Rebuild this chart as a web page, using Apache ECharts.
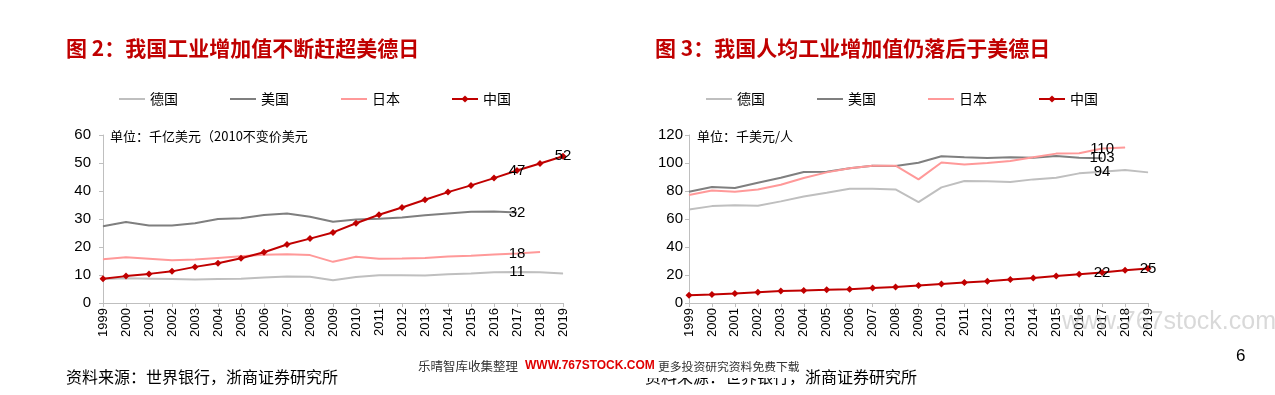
<!DOCTYPE html>
<html><head><meta charset="utf-8">
<script src="https://cdn.jsdelivr.net/npm/echarts@6/dist/echarts.min.js"></script>
<style>html,body{margin:0;padding:0;background:#fff}#c{width:1275px;height:395px}</style>
</head><body><div id="c"></div>
<script>
const years = ['1999','2000','2001','2002','2003','2004','2005','2006','2007','2008','2009','2010','2011','2012','2013','2014','2015','2016','2017','2018','2019'];
const names = ['德国','美国','日本','中国'];
// 图2：工业增加值（千亿美元，2010不变价）
const vaGermany = [8.6, 8.8, 8.7, 8.6, 8.4, 8.6, 8.7, 9.1, 9.5, 9.4, 8.1, 9.3, 9.9, 9.9, 9.8, 10.3, 10.5, 11.0, 11.1, 11.0, 10.5];
const vaUSA     = [27.4, 28.9, 27.7, 27.7, 28.5, 30.0, 30.3, 31.4, 32.0, 30.8, 29.0, 29.8, 30.1, 30.5, 31.3, 32.0, 32.6, 32.7, 32.3];
const vaJapan   = [15.6, 16.3, 15.8, 15.3, 15.5, 16.1, 16.7, 17.2, 17.4, 17.1, 14.7, 16.5, 15.8, 15.9, 16.1, 16.6, 16.9, 17.3, 17.7, 18.2];
const vaChina   = [8.7, 9.6, 10.4, 11.3, 12.9, 14.2, 16.0, 18.1, 20.9, 23.0, 25.2, 28.5, 31.5, 34.1, 36.9, 39.6, 42.0, 44.6, 47.3, 49.8, 52.4];
// 图3：人均工业增加值（千美元/人）
const pcGermany = [66.8, 69.2, 69.9, 69.5, 72.6, 76.1, 78.8, 81.6, 81.6, 81.1, 72.1, 82.6, 87.1, 86.9, 86.4, 88.3, 89.5, 92.6, 93.8, 95.0, 93.3];
const pcUSA     = [79.5, 82.8, 82.1, 85.9, 89.5, 93.6, 93.8, 96.2, 98.1, 97.9, 100.2, 104.8, 104.1, 103.6, 104.1, 103.8, 105.0, 103.8, 103.4];
const pcJapan   = [77.1, 80.4, 79.5, 81.1, 84.5, 89.3, 93.3, 96.2, 98.1, 98.1, 88.3, 100.4, 99.0, 100.0, 101.4, 104.1, 106.7, 106.9, 110.3, 111.0];
const pcChina   = [5.5, 6.0, 6.7, 7.6, 8.5, 9.0, 9.4, 9.9, 10.7, 11.5, 12.5, 13.6, 14.6, 15.5, 16.7, 17.9, 19.3, 20.5, 21.8, 23.4, 24.7];
// labelled points (indices into years)
const labelsVA = [[18], [18], [18], [18, 20]];
const labelsPC = [[18], [18], [18], [18, 20]];
const leftTicks = {min: 0, max: 60, interval: 10};
const rightTicks = {min: 0, max: 120, interval: 20};

const colors = ['#BFBFBF', '#7F7F7F', '#FF9999', '#C00000'];
const NUM = 'Liberation Sans, Arial, Noto Sans CJK SC, sans-serif';
const CJK = 'Noto Sans CJK SC, sans-serif';

function mk(arr, idxs) {
  return arr.map((v, i) => idxs.indexOf(i) >= 0
    ? {value: v, label: {show: true, position: 'inside', formatter: p => Math.round(p.value), color: '#000', fontSize: 15, fontFamily: NUM}}
    : v);
}
function series(dataSets, labelSets, axisIdx) {
  return dataSets.map((d, k) => ({
    name: names[k], type: 'line', xAxisIndex: axisIdx, yAxisIndex: axisIdx,
    data: mk(d, labelSets[k]),
    symbol: k === 3 ? 'diamond' : 'circle', symbolSize: k === 3 ? 7 : 0.5, showSymbol: true,
    lineStyle: {color: colors[k], width: 2}, itemStyle: {color: colors[k]},
    z: k === 3 ? 5 : 3, animation: false
  }));
}
function xAx(gi) {
  return {type: 'category', gridIndex: gi, data: years, boundaryGap: false,
    axisLine: {lineStyle: {color: '#BFBFBF', width: 1}},
    axisTick: {show: true, length: 4, lineStyle: {color: '#BFBFBF'}},
    axisLabel: {rotate: 90, interval: 0, margin: 5, color: '#000', fontSize: 13, fontFamily: NUM}};
}
function yAx(gi, t, margin) {
  return {type: 'value', gridIndex: gi, min: t.min, max: t.max, interval: t.interval,
    axisLine: {show: true, lineStyle: {color: '#BFBFBF', width: 1}},
    axisTick: {show: true, length: 4, lineStyle: {color: '#BFBFBF'}},
    splitLine: {show: false},
    axisLabel: {margin: margin, color: '#000', fontSize: 15, fontFamily: NUM}};
}
function legend(left) {
  return {left: left, top: 87, itemWidth: 26, itemHeight: 9, itemGap: 51,
    data: names.map((n, k) => k === 3 ? {name: n} : {name: n, itemStyle: {opacity: 0}}),
    textStyle: {fontSize: 14, color: '#000', fontFamily: CJK}};
}
const chart = echarts.init(document.getElementById('c'));
chart.setOption({
  backgroundColor: '#fff',
  animation: false,
  grid: [
    {left: 103, top: 135, width: 460, height: 168},
    {left: 689, top: 135, width: 459, height: 168}
  ],
  legend: [legend(113), legend(700)],
  xAxis: [xAx(0), xAx(1)],
  yAxis: [yAx(0, leftTicks, 12), yAx(1, rightTicks, 6)],
  series: series([vaGermany, vaUSA, vaJapan, vaChina], labelsVA, 0)
    .concat(series([pcGermany, pcUSA, pcJapan, pcChina], labelsPC, 1)),
  graphic: [
    {type: 'text', left: 66, top: 38, style: {text: '图 2：我国工业增加值不断赶超美德日', fill: '#C00000', font: 'bold 21px ' + CJK}},
    {type: 'text', left: 655, top: 38, style: {text: '图 3：我国人均工业增加值仍落后于美德日', fill: '#C00000', font: 'bold 21px ' + CJK}},
    {type: 'text', left: 110, top: 130, style: {text: '单位：千亿美元（2010不变价美元', fill: '#000', font: '13px ' + CJK}},
    {type: 'text', left: 697, top: 130, style: {text: '单位：千美元/人', fill: '#000', font: '13px ' + CJK}},
    {type: 'text', left: 66, top: 369, style: {text: '资料来源：世界银行，浙商证券研究所', fill: '#000', font: '16px ' + CJK}},
    {type: 'text', left: 645, top: 369, style: {text: '资料来源：世界银行，浙商证券研究所', fill: '#000', font: '16px ' + CJK}},
    {type: 'rect', shape: {x: 410, y: 356, width: 393, height: 22}, style: {fill: '#fff'}, z: 50},
    {type: 'text', left: 418, top: 360, z: 51, style: {text: '乐晴智库收集整理', fill: '#333', font: '12.5px ' + CJK}},
    {type: 'text', left: 525, top: 360, z: 51, style: {text: 'WWW.767STOCK.COM', fill: '#E00000', font: 'bold 12px ' + NUM}},
    {type: 'text', left: 658, top: 361, z: 51, style: {text: '更多投资研究资料免费下载', fill: '#333', font: '11.8px ' + CJK}},
    {type: 'text', left: 1236, top: 348, style: {text: '6', fill: '#000', font: '17px ' + NUM}},
    {type: 'text', left: 1062, top: 310, z: 60, style: {text: 'www.767stock.com', fill: 'rgba(170,170,170,0.45)', font: '25px ' + NUM}}
  ]
});
</script></body></html>
